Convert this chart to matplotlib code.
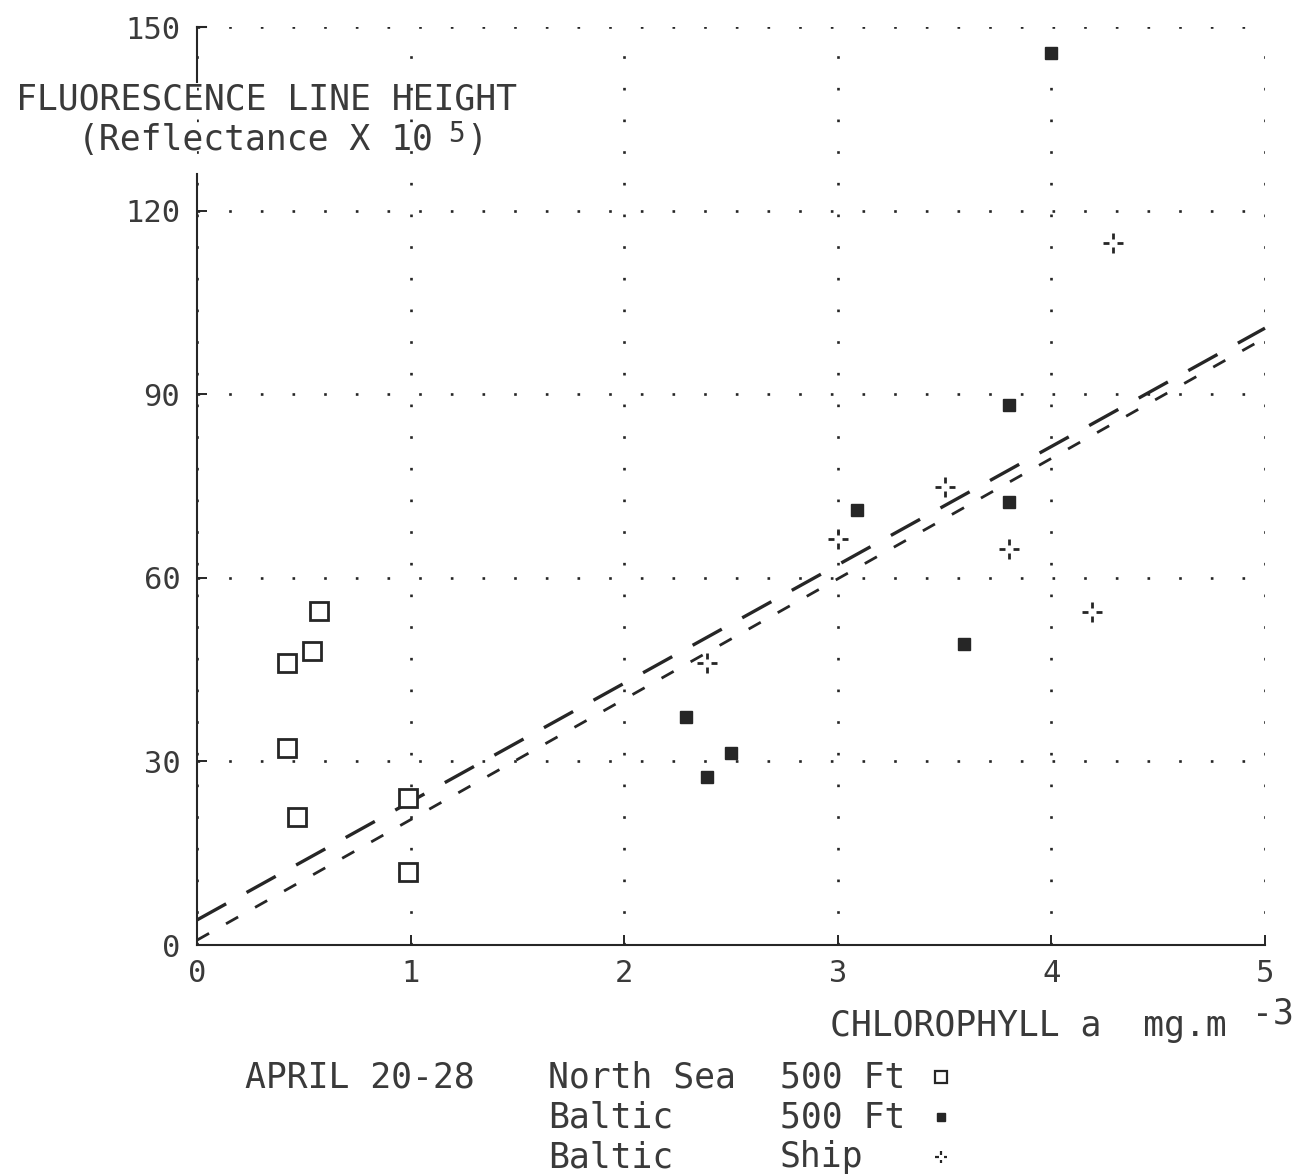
import matplotlib
matplotlib.use("Agg")
import matplotlib.pyplot as plt
from matplotlib.path import Path
from matplotlib.lines import Line2D
import numpy as np

# North Sea, 500 ft (open squares)
ns_chl = [0.57, 0.54, 0.42, 0.42, 0.47, 0.99, 0.99]
ns_flh = [54.6, 48.0, 46.1, 32.2, 20.9, 24.0, 11.9]
# Baltic, 500 ft (filled squares)
bal_chl = [4.0, 3.8, 3.8, 3.09, 3.59, 2.29, 2.39, 2.5]
bal_flh = [145.8, 88.2, 72.4, 71.1, 49.2, 37.3, 27.5, 31.4]
# Baltic, ship (broken plus)
ship_chl = [4.29, 3.5, 3.0, 3.8, 4.19, 2.39]
ship_flh = [114.7, 74.8, 66.3, 64.7, 54.4, 46.1]

# regression lines: (intercept, slope)
fit_long = (4.1, 19.34)
fit_short = (0.8, 19.68)

x_ticks = [0, 1, 2, 3, 4, 5]
x_labels = ["0", "1", "2", "3", "4", "5"]
y_ticks = [0, 30, 60, 90, 120, 150]
y_labels = ["0", "30", "60", "90", "120", "150"]

FONT = "DejaVu Sans Mono"
INK = "#262626"
TXT = "#3a3a3a"
FS = 25

# broken plus marker used for ship stations
_v = [(-1, 0), (-0.4, 0), (0.4, 0), (1, 0), (0, -1), (0, -0.4), (0, 0.4), (0, 1)]
_c = [Path.MOVETO, Path.LINETO] * 4
SHIP_MARK = Path(_v, _c)

fig = plt.figure(figsize=(13.08, 11.75), dpi=100)
ax = fig.add_axes([0.1506, 0.1957, 0.8165, 0.7813])

ax.set_xlim(0, 5)
ax.set_ylim(0, 150)

# --- grid & frame ---
for s in ["top", "right"]:
    ax.spines[s].set_visible(False)
for s in ["bottom", "left"]:
    ax.spines[s].set_linewidth(1.5)
    ax.spines[s].set_color(INK)
# left spine is broken where the axis title sits
ax.spines["left"].set_bounds(0, 126)
ax.plot([0, 0], [141, 150], color=INK, lw=1.5, clip_on=False)
ax.plot([0, 0.04], [150, 150], color=INK, lw=1.5, clip_on=False)

ax.grid(True, color=INK, linestyle=(0, (1, 11)), linewidth=1.9)
ax.set_axisbelow(True)

ax.set_xticks(x_ticks, x_labels, fontfamily=FONT, fontsize=22, color=TXT)
ax.set_yticks(y_ticks, y_labels, fontfamily=FONT, fontsize=22, color=TXT)
ax.tick_params(direction="in", length=7, width=1.4, color=INK)
ax.tick_params(axis="x", pad=10)
ax.tick_params(axis="y", pad=12)

# --- regression lines ---
xs = np.array([0, 5])
ax.plot(xs, fit_long[0] + fit_long[1] * xs, color=INK, lw=2.4,
        linestyle=(0, (10, 7)), clip_on=False)
ax.plot(xs, fit_short[0] + fit_short[1] * xs, color=INK, lw=2.0,
        linestyle=(0, (5, 7)), clip_on=False)

# --- points ---
ax.plot(ns_chl, ns_flh, linestyle="none", marker="s", markersize=12.5,
        markerfacecolor="white", markeredgecolor=INK, markeredgewidth=2.0, zorder=4)
ax.plot(bal_chl, bal_flh, linestyle="none", marker="s", markersize=8,
        markerfacecolor=INK, markeredgecolor=INK, zorder=4)
ax.plot(ship_chl, ship_flh, linestyle="none", marker=SHIP_MARK, markersize=14,
        markeredgecolor=INK, markeredgewidth=2.0, zorder=4)

# --- axis titles ---
fig.text(266 / 1308, 1 - 99 / 1175, "FLUORESCENCE LINE HEIGHT", ha="center", va="center",
         fontfamily=FONT, fontsize=FS, color=TXT)
fig.text(78 / 1308, 1 - 140 / 1175, "(Reflectance X 10", ha="left", va="center",
         fontfamily=FONT, fontsize=FS, color=TXT)
fig.text(448 / 1308, 1 - 134 / 1175, "5", ha="left", va="center",
         fontfamily=FONT, fontsize=20, color=TXT)
fig.text(466 / 1308, 1 - 140 / 1175, ")", ha="left", va="center",
         fontfamily=FONT, fontsize=FS, color=TXT)

fig.text(830 / 1308, 1 - 1026 / 1175, "CHLOROPHYLL a  mg.m", ha="left", va="center",
         fontfamily=FONT, fontsize=FS, color=TXT)
fig.text(1252 / 1308, 1 - 1013 / 1175, "-3", ha="left", va="center",
         fontfamily=FONT, fontsize=FS, color=TXT)

# --- key ---
fig.text(245 / 1308, 1 - 1077 / 1175, "APRIL 20-28", ha="left", va="center",
         fontfamily=FONT, fontsize=FS, color=TXT)
key_rows = [("North Sea", "500 Ft"), ("Baltic", "500 Ft"), ("Baltic", "Ship")]
key_marks = [
    dict(marker="s", markersize=8, markerfacecolor="white", markeredgecolor=INK, markeredgewidth=1.6),
    dict(marker="s", markersize=6, markerfacecolor=INK, markeredgecolor=INK),
    dict(marker=SHIP_MARK, markersize=9, markeredgecolor=INK, markeredgewidth=1.6),
]
for i, ((place, alt), mk) in enumerate(zip(key_rows, key_marks)):
    yy = 1 - (1077 + 40 * i) / 1175
    fig.text(548 / 1308, yy, place, ha="left", va="center",
             fontfamily=FONT, fontsize=FS, color=TXT)
    fig.text(780 / 1308, yy, alt, ha="left", va="center",
             fontfamily=FONT, fontsize=FS, color=TXT)
    fig.add_artist(Line2D([941 / 1308], [yy], transform=fig.transFigure,
                          linestyle="none", **mk))

fig.savefig("out.png", dpi=100, facecolor="white")
